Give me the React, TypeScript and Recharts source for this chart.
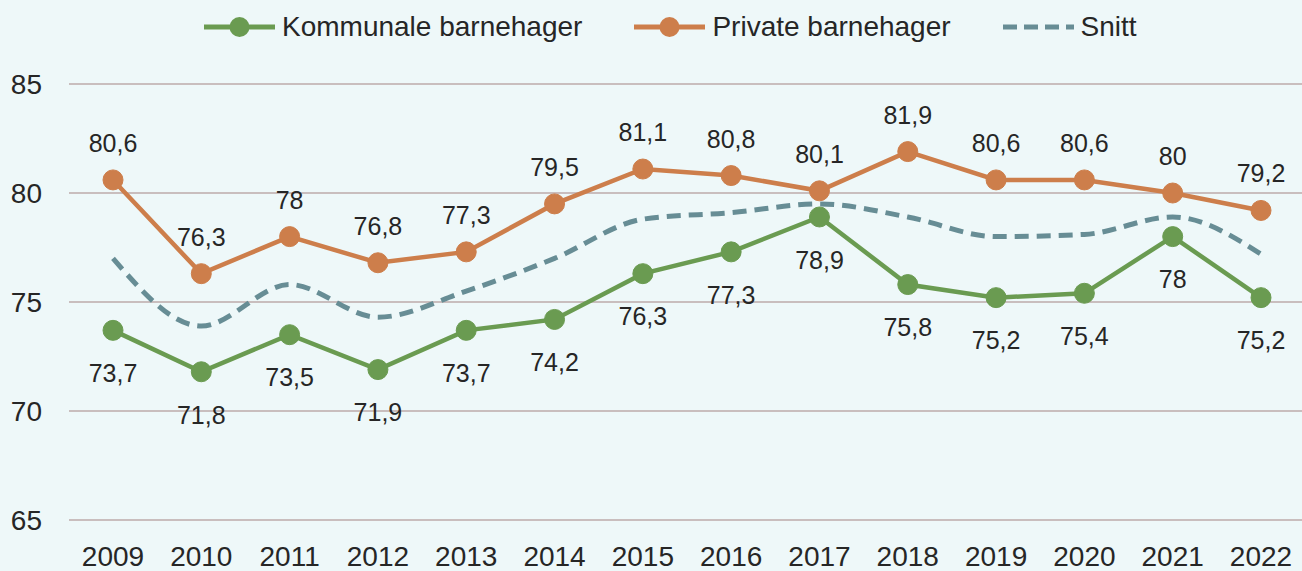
import { LineChart, Line, XAxis, YAxis, CartesianGrid, Legend, LabelList } from "recharts";

const years = ["2009", "2010", "2011", "2012", "2013", "2014", "2015", "2016", "2017", "2018", "2019", "2020", "2021", "2022"];
const kommunale = [73.7, 71.8, 73.5, 71.9, 73.7, 74.2, 76.3, 77.3, 78.9, 75.8, 75.2, 75.4, 78, 75.2];
const privat = [80.6, 76.3, 78, 76.8, 77.3, 79.5, 81.1, 80.8, 80.1, 81.9, 80.6, 80.6, 80, 79.2];
const snitt = [77.0, 73.9, 75.8, 74.3, 75.5, 77.0, 78.8, 79.1, 79.5, 78.9, 78.0, 78.1, 78.9, 77.2];
const yTicks = [65, 70, 75, 80, 85];

const GREEN = "#6A9B51";
const ORANGE = "#CD7E4B";
const TEAL = "#678D95";
const TEXT = "#262626";
const FONT = "'Liberation Sans', Arial, sans-serif";

const data = years.map((year, i) => ({
  year,
  kommunale: kommunale[i],
  privat: privat[i],
  snitt: snitt[i],
}));

const fmt = (v: any) => String(v).replace(".", ",");

function LegendIcon({ color, dashed }: { color: string; dashed?: boolean }) {
  return (
    <svg width={71} height={22} style={{ display: "block" }}>
      <line
        x1={0}
        y1={11}
        x2={71}
        y2={11}
        stroke={color}
        strokeWidth={5}
        strokeDasharray={dashed ? "14 7" : undefined}
      />
      {!dashed && <circle cx={35.5} cy={11} r={10} fill={color} />}
    </svg>
  );
}

function ChartLegend() {
  const items = [
    { label: "Kommunale barnehager", color: GREEN },
    { label: "Private barnehager", color: ORANGE },
    { label: "Snitt", color: TEAL, dashed: true },
  ];
  return (
    <div
      style={{
        height: 84,
        display: "flex",
        alignItems: "flex-start",
        paddingLeft: 204,
        boxSizing: "border-box",
        fontFamily: FONT,
        fontSize: 28,
        color: TEXT,
      }}
    >
      {items.map((it, i) => (
        <div
          key={it.label}
          style={{
            display: "flex",
            alignItems: "center",
            marginTop: 11,
            marginLeft: i === 0 ? 0 : 52,
            height: 32,
          }}
        >
          <LegendIcon color={it.color} dashed={it.dashed} />
          <span style={{ marginLeft: 7, whiteSpace: "nowrap" }}>{it.label}</span>
        </div>
      ))}
    </div>
  );
}

export default function App() {
  return (
    <div
      style={{
        position: "absolute",
        left: 0,
        top: 0,
        width: 1302,
        height: 571,
        overflow: "hidden",
        background: "#EEF8F9",
      }}
    >
      <LineChart
        width={1305}
        height={571}
        data={data}
        margin={{ top: 0, right: 0, bottom: 0, left: 0 }}
        style={{ fontFamily: FONT }}
      >
        <Legend verticalAlign="top" align="left" content={() => <ChartLegend />} />
        <CartesianGrid vertical={false} stroke="#C9BEBE" strokeWidth={2} />
        <XAxis
          dataKey="year"
          axisLine={false}
          tickLine={false}
          height={51}
          tickMargin={20}
          padding={{ left: 44, right: 44 }}
          tick={{ fontSize: 28, fill: TEXT }}
          interval={0}
        />
        <YAxis
          domain={[65, 85]}
          ticks={yTicks}
          axisLine={false}
          tickLine={false}
          width={69}
          tickMargin={21}
          tick={{ fontSize: 28, fill: TEXT }}
        />
        <Line
          dataKey="snitt"
          type="monotone"
          stroke={TEAL}
          strokeWidth={5}
          strokeDasharray="14 8"
          dot={false}
          activeDot={false}
          isAnimationActive={false}
        />
        <Line
          dataKey="privat"
          type="linear"
          stroke={ORANGE}
          strokeWidth={4.5}
          dot={{ r: 10, fill: ORANGE, stroke: ORANGE, strokeWidth: 1 }}
          activeDot={false}
          isAnimationActive={false}
        >
          <LabelList
            dataKey="privat"
            position="top"
            offset={28}
            formatter={fmt}
            style={{ fontSize: 25, fill: TEXT }}
          />
        </Line>
        <Line
          dataKey="kommunale"
          type="linear"
          stroke={GREEN}
          strokeWidth={4.5}
          dot={{ r: 10, fill: GREEN, stroke: GREEN, strokeWidth: 1 }}
          activeDot={false}
          isAnimationActive={false}
        >
          <LabelList
            dataKey="kommunale"
            position="bottom"
            offset={34}
            formatter={fmt}
            style={{ fontSize: 25, fill: TEXT }}
          />
        </Line>
      </LineChart>
    </div>
  );
}
